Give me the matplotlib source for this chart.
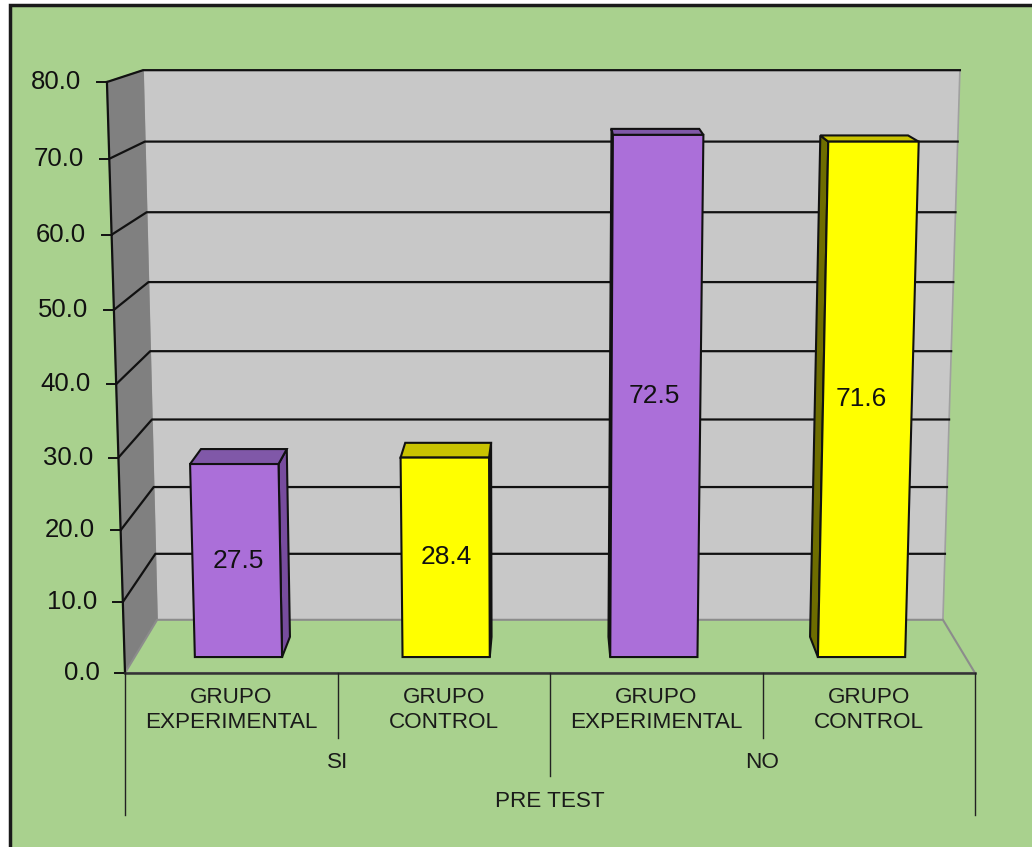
import numpy as np
import matplotlib
matplotlib.use('Agg')
import matplotlib.pyplot as plt
from matplotlib.patches import Polygon, Rectangle

plt.rcParams['font.family'] = ['Liberation Sans', 'DejaVu Sans']

# datos del grafico (porcentajes del pre test)
grupos = ['GRUPO\nEXPERIMENTAL', 'GRUPO\nCONTROL', 'GRUPO\nEXPERIMENTAL', 'GRUPO\nCONTROL']
respuestas = ['SI', 'NO']
titulo_eje = 'PRE TEST'
porcentajes = [27.5, 28.4, 72.5, 71.6]
marcas_y = np.arange(0, 90, 10)
etiquetas_y = ['%.1f' % m for m in marcas_y]

# colores: cara frontal, tapa y lateral de cada barra
color_frente = ['#AB6FD9', '#FFFF00', '#AB6FD9', '#FFFF00']
color_tapa = ['#8058A8', '#C9C300', '#8058A8', '#C9C300']
color_lado = ['#774C9E', '#6E6D00', '#774C9E', '#6E6D00']

verde = '#A9D18E'
ymax = 80.0
n = len(porcentajes)

# esquinas del plano frontal (z=0) y del fondo (z=1) en unidades de datos
frente = {'bl': (0.0, 0.0), 'br': (4.0, 0.0), 'tl': (-0.085, 80.0), 'tr': (4.085, 80.0)}
fondo = {'bl': (0.151, 7.2), 'br': (3.849, 7.2), 'tl': (0.085, 81.6), 'tr': (3.929, 81.6)}
curva = -0.045   # la perspectiva estira la parte alta del eje


def proj(x, valor, z):
    # categoria x (0..n), valor (0..ymax), profundidad z (0 frente, 1 fondo)
    u = x / n
    v = valor / ymax
    v = v + curva * v * (1 - v)
    c = {k: np.array(frente[k]) * (1 - z) + np.array(fondo[k]) * z for k in frente}
    abajo = c['bl'] + u * (c['br'] - c['bl'])
    arriba = c['tl'] + u * (c['tr'] - c['tl'])
    return tuple(abajo + v * (arriba - abajo))


fig = plt.figure(figsize=(10.32, 8.47), dpi=100, facecolor='white')
marco = Rectangle((10 / 1032, -0.02), 1.05, (847 - 5) / 847 + 0.02,
                  transform=fig.transFigure, facecolor=verde,
                  edgecolor='#1A1A1A', lw=2.5, zorder=-10)
fig.patches.append(marco)

ax = fig.add_axes([125 / 1032, (847 - 673) / 847, 850 / 1032, 591 / 847])
ax.set_xlim(0, n)
ax.set_ylim(0, ymax)
ax.axis('off')

# paredes y piso
pared_fondo = [proj(0, 0, 1), proj(n, 0, 1), proj(n, ymax, 1), proj(0, ymax, 1)]
ax.add_patch(Polygon(pared_fondo, closed=True, facecolor='#C8C8C8', edgecolor='#A0A0A0',
                     lw=1.2, zorder=1, clip_on=False))
pared_izq = [proj(0, 0, 0), proj(0, 0, 1), proj(0, ymax, 1), proj(0, ymax, 0)]
ax.add_patch(Polygon(pared_izq, closed=True, facecolor='#808080', edgecolor='#808080',
                     lw=1, zorder=1, clip_on=False))
piso = [proj(0, 0, 0), proj(n, 0, 0), proj(n, 0, 1), proj(0, 0, 1)]
ax.add_patch(Polygon(piso, closed=True, facecolor=verde, edgecolor='#8C8C8C',
                     lw=1.5, zorder=1, clip_on=False))

# lineas de division en la pared izquierda y el fondo
for m in marcas_y[1:]:
    pts = np.array([proj(0, m, 0), proj(0, m, 1), proj(n, m, 1)])
    ax.plot(pts[:, 0], pts[:, 1], color='#111111', lw=1.6, zorder=2, clip_on=False)

# eje de valores con sus marcas
eje = np.array([proj(0, 0, 0), proj(0, ymax, 0)])
ax.plot(eje[:, 0], eje[:, 1], color='#111111', lw=1.6, zorder=4, clip_on=False)
for m, txt in zip(marcas_y, etiquetas_y):
    x0, y0 = proj(0, m, 0)
    ax.plot([x0 - 0.045, x0], [y0, y0], color='#111111', lw=1.4, zorder=4, clip_on=False)
    ax.text(x0 - 0.12, y0, txt, ha='right', va='center', fontsize=18.5,
            color='#111111', zorder=5)

# barras en perspectiva
z0, z1 = 0.3, 0.68
media = 0.21
for i, h in enumerate(porcentajes):
    xa, xb = i + 0.5 - media, i + 0.5 + media
    frontal = [proj(xa, 0, z0), proj(xb, 0, z0), proj(xb, h, z0), proj(xa, h, z0)]
    tapa = [proj(xa, h, z0), proj(xb, h, z0), proj(xb, h, z1), proj(xa, h, z1)]
    der = [proj(xb, 0, z0), proj(xb, 0, z1), proj(xb, h, z1), proj(xb, h, z0)]
    izq = [proj(xa, 0, z0), proj(xa, 0, z1), proj(xa, h, z1), proj(xa, h, z0)]
    caras = []
    if proj(xb, 0, z1)[0] > proj(xb, 0, z0)[0]:
        caras.append(der)
    if proj(xa, 0, z1)[0] < proj(xa, 0, z0)[0]:
        caras.append(izq)
    for cara in caras:
        ax.add_patch(Polygon(cara, closed=True, facecolor=color_lado[i], edgecolor='#111111',
                             lw=1.5, zorder=3, clip_on=False))
    ax.add_patch(Polygon(tapa, closed=True, facecolor=color_tapa[i], edgecolor='#111111',
                         lw=1.5, zorder=3, clip_on=False))
    ax.add_patch(Polygon(frontal, closed=True, facecolor=color_frente[i], edgecolor='#111111',
                         lw=1.5, zorder=3, clip_on=False))
    cx = (frontal[0][0] + frontal[1][0]) / 2
    cy = (frontal[0][1] + frontal[2][1]) / 2
    ax.text(cx, cy, '%.1f' % h, ha='center', va='center', fontsize=19,
            color='#111111', zorder=5)

# borde frontal del piso y eje de categorias en tres niveles
ax.plot([0, n], [0, 0], color='#333333', lw=1.8, zorder=4, clip_on=False)
py = 7.3875  # pixeles por unidad de valor
for xs in [1, 3]:
    ax.plot([xs, xs], [0, -65 / py], color='#222222', lw=1, zorder=4, clip_on=False)
ax.plot([2, 2], [0, -103 / py], color='#222222', lw=1, zorder=4, clip_on=False)
for xs in [0, n]:
    ax.plot([xs, xs], [0, -142 / py], color='#222222', lw=1, zorder=4, clip_on=False)

for i, g in enumerate(grupos):
    ax.text(i + 0.5, -37 / py, g, ha='center', va='center', fontsize=16.2,
            color='#1A1A1A', linespacing=1.2, zorder=5)
for j, r in enumerate(respuestas):
    ax.text(2 * j + 1, -89 / py, r, ha='center', va='center', fontsize=16.2,
            color='#1A1A1A', zorder=5)
ax.text(2, -128 / py, titulo_eje, ha='center', va='center', fontsize=16.2,
        color='#1A1A1A', zorder=5)

fig.savefig('out.png', dpi=100, facecolor=fig.get_facecolor())
